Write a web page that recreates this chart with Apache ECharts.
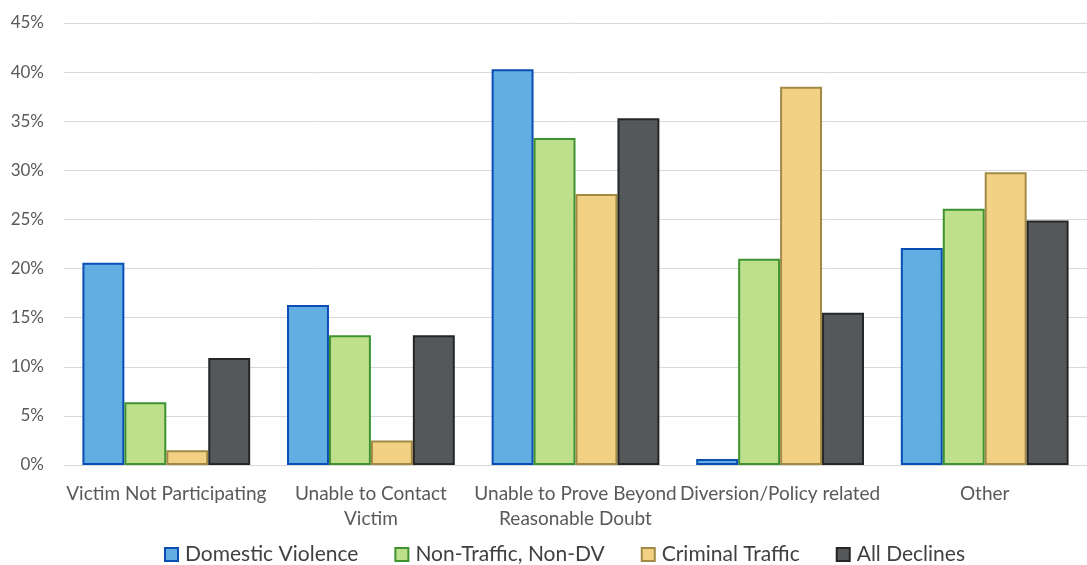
<!DOCTYPE html>
<html>
<head>
<meta charset="utf-8">
<script src="https://cdn.jsdelivr.net/npm/echarts@6/dist/echarts.min.js"></script>
<style>
  html, body { margin: 0; padding: 0; background: #fff; }
  #chart { width: 1087px; height: 565px; }
</style>
</head>
<body>
<div id="chart"></div>
<script>
var categories = ['Victim Not Participating', 'Unable to Contact\nVictim', 'Unable to Prove Beyond\nReasonable Doubt', 'Diversion/Policy related', 'Other'];
var seriesNames = ['Domestic Violence', 'Non-Traffic, Non-DV', 'Criminal Traffic', 'All Declines'];
var domesticViolence = [20.6, 16.3, 40.3, 0.6, 22.1];
var nonTrafficNonDV = [6.4, 13.2, 33.3, 21.0, 26.1];
var criminalTraffic = [1.5, 2.5, 27.6, 38.5, 29.8];
var allDeclines = [10.9, 13.2, 35.3, 15.5, 24.9];

var fills = ['#62AEE3', '#BEE08C', '#F2D184', '#54585B'];
var borders = ['#0A4DB5', '#3E9230', '#A08A45', '#262626'];
var values = [domesticViolence, nonTrafficNonDV, criminalTraffic, allDeclines];

var font = 'Lato';
var series = seriesNames.map(function(name, i){
    return {
        name: name,
        type: 'bar',
        data: values[i],
        barGap: '0%',
        barCategoryGap: '18%',
        itemStyle: { color: fills[i], borderColor: borders[i], borderWidth: 2 }
    };
});

var myCharts = echarts.init(document.getElementById('chart'));
myCharts.setOption({
    animation: false,
    textStyle: { fontFamily: font },
    grid: { left: 64, right: 0, top: 23, bottom: 100 },
    legend: {
        top: 539,
        left: 159,
        itemWidth: 13,
        itemHeight: 13,
        itemGap: 36,
        icon: 'rect',
        textStyle: { fontSize: 21, color: '#404040', fontFamily: font, padding: [0, 0, 0, 2] },
        data: seriesNames.map(function(n, i){
            return { name: n, itemStyle: { color: fills[i], borderColor: borders[i], borderWidth: 2 } };
        })
    },
    xAxis: {
        type: 'category',
        data: categories,
        axisLine: { lineStyle: { color: '#D9D9D9', width: 1 } },
        axisTick: { show: false },
        axisLabel: { color: '#595959', fontSize: 19, margin: 16, lineHeight: 25, interval: 0, fontFamily: font }
    },
    yAxis: {
        type: 'value',
        min: 0,
        max: 45,
        interval: 5,
        axisLine: { show: false },
        axisTick: { show: false },
        splitLine: { lineStyle: { color: '#D9D9D9', width: 1 } },
        axisLabel: { color: '#595959', fontSize: 17, margin: 20, formatter: '{value}%', fontFamily: font }
    },
    series: series
});
</script>
</body>
</html>
